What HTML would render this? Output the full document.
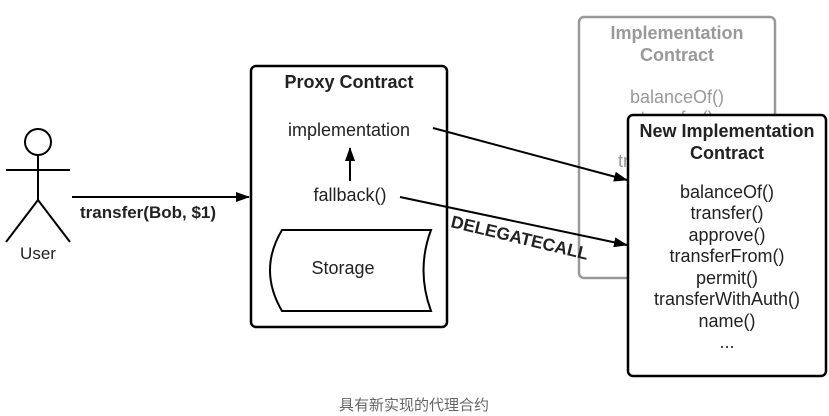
<!DOCTYPE html>
<html><head><meta charset="utf-8"><style>
html,body{margin:0;padding:0;background:#fff;width:829px;height:416px;overflow:hidden}
svg text{font-family:"Liberation Sans",sans-serif}
</style></head><body>
<svg width="829" height="416" xmlns="http://www.w3.org/2000/svg">
<defs><marker id="a" markerWidth="14" markerHeight="10" refX="13" refY="5" orient="auto" markerUnits="userSpaceOnUse"><path d="M0,0 L14,5 L0,10 z" fill="#000"/></marker></defs>
<g stroke="#000" stroke-width="2" fill="none">
<circle cx="38" cy="142" r="13"/>
<line x1="38" y1="155" x2="38" y2="200"/>
<line x1="6" y1="170" x2="70" y2="170"/>
<line x1="38" y1="200" x2="6" y2="242"/>
<line x1="38" y1="200" x2="70" y2="242"/>
</g>
<text x="38" y="259" font-size="17" text-anchor="middle" fill="#222">User</text>
<line x1="72" y1="197" x2="249" y2="197" stroke="#000" stroke-width="2" marker-end="url(#a)"/>
<text x="80" y="218" font-size="17" font-weight="bold" fill="#222">transfer(Bob, $1)</text>
<rect x="251" y="66" width="196" height="261" rx="5" fill="#fff" stroke="#000" stroke-width="2.5"/>
<text x="349" y="88" font-size="18" font-weight="bold" text-anchor="middle" fill="#222">Proxy Contract</text>
<text x="349" y="136" font-size="18" text-anchor="middle" fill="#222">implementation</text>
<line x1="350" y1="181" x2="350" y2="148" stroke="#000" stroke-width="2" marker-end="url(#a)"/>
<text x="350" y="201" font-size="18" text-anchor="middle" fill="#222">fallback()</text>
<path d="M282,230 L431,230 Q416,270 431,311 L282,311 Q258,270 282,230 Z" fill="#fff" stroke="#000" stroke-width="2"/>
<text x="343" y="274" font-size="18" text-anchor="middle" fill="#222">Storage</text>
<rect x="579" y="17" width="196" height="261" rx="5" fill="#fff" stroke="#999" stroke-width="2.5"/>
<text x="677" y="39" font-size="18" font-weight="bold" text-anchor="middle" fill="#999">Implementation</text>
<text x="677" y="61" font-size="18" font-weight="bold" text-anchor="middle" fill="#999">Contract</text>
<text x="677" y="103" font-size="18" text-anchor="middle" fill="#999">balanceOf()</text>
<text x="677" y="124" font-size="18" text-anchor="middle" fill="#999">transfer()</text>
<text x="618" y="167" font-size="18" fill="#999">tr</text>
<line x1="433" y1="128" x2="627" y2="180" stroke="#000" stroke-width="2" marker-end="url(#a)"/>
<line x1="400" y1="197" x2="627" y2="245" stroke="#000" stroke-width="2" marker-end="url(#a)"/>
<text x="450" y="227" font-size="17.5" font-weight="bold" fill="#222" transform="rotate(13.5 450 227)">DELEGATECALL</text>
<rect x="628" y="115" width="198" height="261" rx="5" fill="#fff" stroke="#000" stroke-width="2.5"/>
<text x="727" y="137" font-size="18" font-weight="bold" text-anchor="middle" fill="#222">New Implementation</text>
<text x="727" y="159" font-size="18" font-weight="bold" text-anchor="middle" fill="#222">Contract</text>
<g font-size="18" text-anchor="middle" fill="#222">
<text x="727" y="198">balanceOf()</text>
<text x="727" y="219">transfer()</text>
<text x="727" y="241">approve()</text>
<text x="727" y="262">transferFrom()</text>
<text x="727" y="284">permit()</text>
<text x="727" y="305">transferWithAuth()</text>
<text x="727" y="327">name()</text>
<text x="727" y="348">...</text>
</g>
<text x="414" y="410" font-size="15" text-anchor="middle" fill="#666" style="font-family:'Liberation Sans','Noto Sans CJK SC',sans-serif">具有新实现的代理合约</text>
</svg>
</body></html>
